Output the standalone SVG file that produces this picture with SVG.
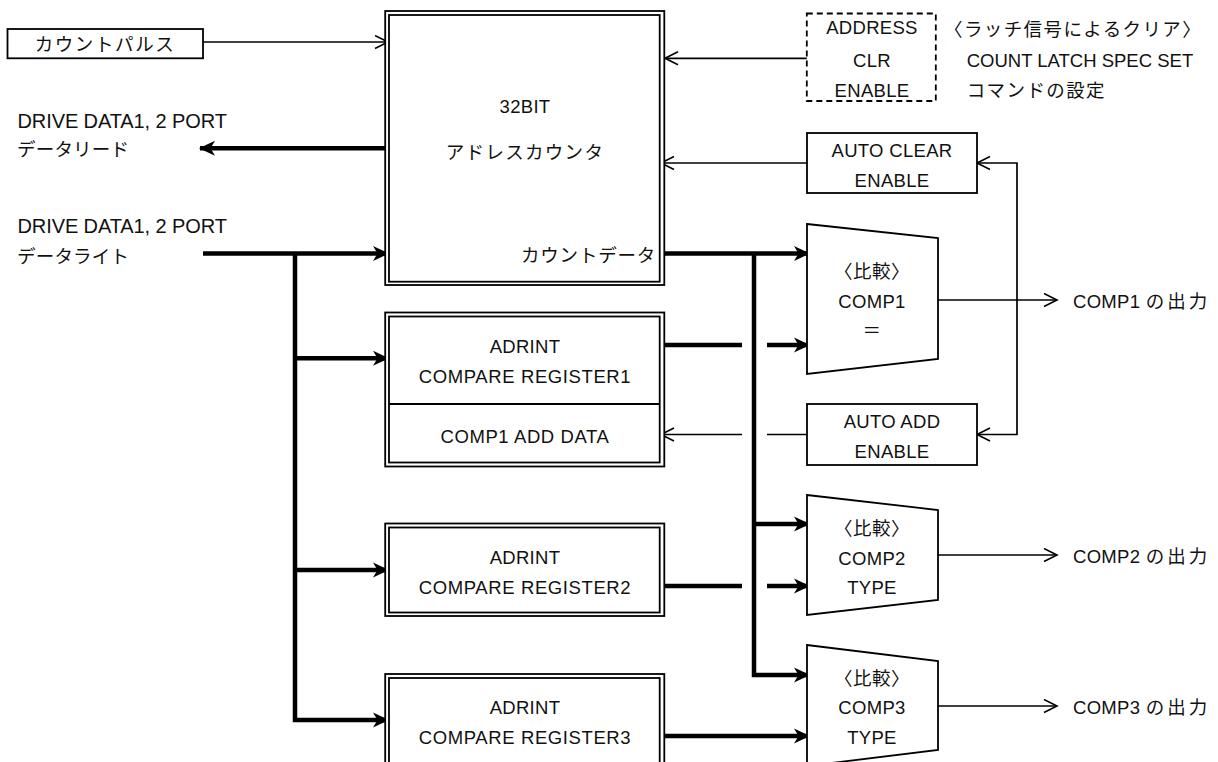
<svg xmlns="http://www.w3.org/2000/svg" width="1218" height="762" viewBox="0 0 1218 762">
<style>
.bg{fill:#fff}
.box{fill:#fff;stroke:#000;stroke-width:1.8}
.dbl{fill:none;stroke:#000;stroke-width:1.8}
.dash{fill:#fff;stroke:#000;stroke-width:1.8;stroke-dasharray:6 4}
.thin{fill:none;stroke:#000;stroke-width:1.7}
.thick{fill:none;stroke:#000;stroke-width:4.5}
text{font-family:"Liberation Sans","Noto Sans CJK JP",sans-serif;font-size:18.5px;fill:#111;letter-spacing:0.3px}
.c{text-anchor:middle}
.big{font-size:20px;letter-spacing:-0.1px}
.jp{font-size:18.5px}
</style>
<defs>
<marker id="af" markerUnits="userSpaceOnUse" viewBox="0 0 16 16" refX="15" refY="8" markerWidth="16" markerHeight="16" orient="auto">
<path d="M0,0.5 L16,8 L0,15.5 L4.5,8 Z" fill="#000"/>
</marker>
<marker id="ao" markerUnits="userSpaceOnUse" viewBox="-1 -1 16 16" refX="13" refY="6.5" markerWidth="16" markerHeight="16" orient="auto">
<path d="M0,0 L13,6.5 L0,13" fill="none" stroke="#000" stroke-width="1.6"/>
</marker>
</defs>
<rect class="bg" x="0" y="0" width="1218" height="762"/>

<g id="connectors">
<line class="thin" x1="203" y1="42" x2="388" y2="42" marker-end="url(#ao)"/>
<line class="thin" x1="807" y1="58.3" x2="665" y2="58.3" marker-end="url(#ao)"/>
<line class="thin" x1="807" y1="163" x2="661" y2="163" marker-end="url(#ao)"/>
<line class="thin" x1="807" y1="434.5" x2="767" y2="434.5"/>
<line class="thin" x1="742" y1="434.5" x2="661" y2="434.5" marker-end="url(#ao)"/>
<line class="thin" x1="938" y1="300" x2="1057" y2="300" marker-end="url(#ao)"/>
<polyline class="thin" points="1017,300 1017,163 977,163" marker-end="url(#ao)"/>
<polyline class="thin" points="1017,300 1017,434.5 977,434.5" marker-end="url(#ao)"/>
<line class="thin" x1="938" y1="555" x2="1057" y2="555" marker-end="url(#ao)"/>
<line class="thin" x1="938" y1="706" x2="1057" y2="706" marker-end="url(#ao)"/>
<line class="thick" x1="385" y1="148.3" x2="200" y2="148.3" marker-end="url(#af)"/>
<line class="thick" x1="203" y1="253.5" x2="388" y2="253.5" marker-end="url(#af)"/>
<polyline class="thick" points="295,253.5 295,720 388,720" marker-end="url(#af)"/>
<line class="thick" x1="295" y1="358.3" x2="388" y2="358.3" marker-end="url(#af)"/>
<line class="thick" x1="295" y1="570" x2="388" y2="570" marker-end="url(#af)"/>
<line class="thick" x1="665" y1="253.5" x2="809" y2="253.5" marker-end="url(#af)"/>
<polyline class="thick" points="754,253.5 754,675 809,675" marker-end="url(#af)"/>
<line class="thick" x1="754" y1="524" x2="809" y2="524" marker-end="url(#af)"/>
<line class="thick" x1="665" y1="345" x2="742" y2="345"/>
<line class="thick" x1="767" y1="345" x2="809" y2="345" marker-end="url(#af)"/>
<line class="thick" x1="665" y1="586" x2="742" y2="586"/>
<line class="thick" x1="767" y1="586" x2="809" y2="586" marker-end="url(#af)"/>
<line class="thick" x1="665" y1="736" x2="809" y2="736" marker-end="url(#af)"/>
</g>

<g id="count-pulse">
<rect class="box" x="7.5" y="29" width="195.5" height="29.3"/>
<text class="jp c" x="105" y="51" style="letter-spacing:1.6px">カウントパルス</text>
</g>

<g id="drive-read">
<text class="big" x="17.5" y="128.3">DRIVE DATA1, 2 PORT</text>
<text class="jp" x="17" y="156" style="letter-spacing:0.2px">データリード</text>
</g>

<g id="drive-write">
<text class="big" x="17.5" y="232.7">DRIVE DATA1, 2 PORT</text>
<text class="jp" x="17" y="262.5" style="letter-spacing:0.2px">データライト</text>
</g>

<g id="address-counter">
<rect class="box" x="385.2" y="11" width="279.1" height="274"/>
<rect class="dbl" x="389" y="15" width="270.7" height="266.7"/>
<text class="c" x="525" y="112.7">32BIT</text>
<text class="jp c" x="525" y="159" style="letter-spacing:1.3px">アドレスカウンタ</text>
<text class="jp" x="521" y="261.5" style="letter-spacing:0.8px">カウントデータ</text>
</g>

<g id="address-clr">
<rect class="dash" x="806.8" y="13.5" width="129" height="87.5"/>
<text class="c" x="872" y="34.3">ADDRESS</text>
<text class="c" x="872" y="66.7">CLR</text>
<text class="c" x="872" y="96.7">ENABLE</text>
</g>

<g id="latch-note">
<text class="jp" x="944" y="36" style="letter-spacing:1.4px">〈ラッチ信号によるクリア〉</text>
<text x="966.7" y="66.7" style="letter-spacing:0px">COUNT LATCH SPEC SET</text>
<text class="jp" x="966.7" y="97" style="letter-spacing:1.4px">コマンドの設定</text>
</g>

<g id="auto-clear">
<rect class="box" x="807" y="133" width="170" height="60"/>
<text class="c" x="892" y="157.3">AUTO CLEAR</text>
<text class="c" x="892" y="187">ENABLE</text>
</g>

<g id="auto-add">
<rect class="box" x="807" y="404" width="170" height="61"/>
<text class="c" x="892" y="428.3">AUTO ADD</text>
<text class="c" x="892" y="458">ENABLE</text>
</g>

<g id="register1">
<rect class="box" x="385.2" y="312.5" width="279.1" height="154"/>
<rect class="dbl" x="389" y="316.5" width="270.7" height="146"/>
<line class="dbl" x1="389" y1="404" x2="659.7" y2="404"/>
<text class="c" x="525" y="353.3">ADRINT</text>
<text class="c" x="525" y="383.3" style="letter-spacing:0.6px">COMPARE REGISTER1</text>
<text class="c" x="525" y="443" style="letter-spacing:0.6px">COMP1 ADD DATA</text>
</g>

<g id="register2">
<rect class="box" x="385.2" y="523.5" width="279.1" height="92.5"/>
<rect class="dbl" x="389" y="527.5" width="270.7" height="85"/>
<text class="c" x="525" y="564">ADRINT</text>
<text class="c" x="525" y="594" style="letter-spacing:0.6px">COMPARE REGISTER2</text>
</g>

<g id="register3">
<rect class="box" x="385.2" y="674" width="279.1" height="110"/>
<rect class="dbl" x="389" y="678" width="270.7" height="100"/>
<text class="c" x="525" y="714">ADRINT</text>
<text class="c" x="525" y="744" style="letter-spacing:0.6px">COMPARE REGISTER3</text>
</g>

<g id="comp1">
<polygon class="box" points="807,224 938,238 938,359 807,374"/>
<text class="jp c" x="872" y="278" style="letter-spacing:0.5px">〈比較〉</text>
<text class="c" x="872" y="308.3">COMP1</text>
<text class="jp c" x="872" y="337">＝</text>
</g>

<g id="comp2">
<polygon class="box" points="807,495 938,510 938,600 807,615"/>
<text class="jp c" x="872" y="535" style="letter-spacing:0.5px">〈比較〉</text>
<text class="c" x="872" y="565">COMP2</text>
<text class="c" x="872" y="594">TYPE</text>
</g>

<g id="comp3">
<polygon class="box" points="807,645 938,661 938,750 807,766"/>
<text class="jp c" x="872" y="685" style="letter-spacing:0.5px">〈比較〉</text>
<text class="c" x="872" y="714">COMP3</text>
<text class="c" x="872" y="744">TYPE</text>
</g>

<g id="outputs">
<text x="1073" y="308">COMP1 <tspan class="jp" style="letter-spacing:3px">の出力</tspan></text>
<text x="1073" y="563">COMP2 <tspan class="jp" style="letter-spacing:3px">の出力</tspan></text>
<text x="1073" y="714">COMP3 <tspan class="jp" style="letter-spacing:3px">の出力</tspan></text>
</g>
</svg>
